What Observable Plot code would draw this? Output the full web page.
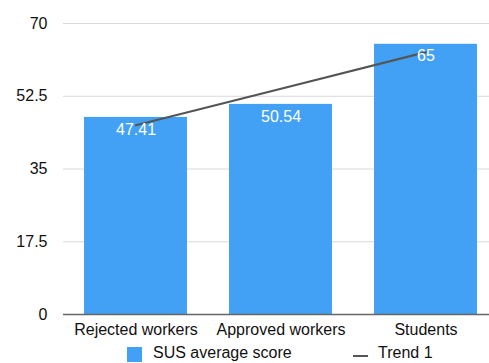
<!DOCTYPE html>
<html>
<head>
<meta charset="utf-8">
<script src="https://cdn.jsdelivr.net/npm/d3@7"></script>
<script src="https://cdn.jsdelivr.net/npm/@observablehq/plot@0.6"></script>
<style>
  body { margin: 0; background: #fff; font-family: "Liberation Sans", Arial, Helvetica, sans-serif; }
  #wrap { position: relative; width: 489px; height: 363px; }
  #legend { position: absolute; left: 0; top: 342px; width: 489px; height: 21px; font-size: 16px; color: #111; }
  .sw { position: absolute; top: 5px; width: 15px; height: 15px; background: #42a1f5; }
  .ln { position: absolute; top: 13px; width: 15px; height: 2px; background: #555; }
  .lt { position: absolute; top: 2px; }
</style>
</head>
<body>
<div id="wrap">
  <div id="chart"></div>
  <div id="legend">
    <div class="sw" style="left:127px"></div><div class="lt" style="left:153px">SUS average score</div>
    <div class="ln" style="left:353px"></div><div class="lt" style="left:378px">Trend 1</div>
  </div>
</div>
<script>
const categories = ["Rejected workers", "Approved workers", "Students"];
const scores = [47.41, 50.54, 65];
const yTicks = [0, 17.5, 35, 52.5, 70];
const valueLabels = ["47.41", "50.54", "65"];

const data = categories.map((c, i) => ({cat: c, v: scores[i], label: valueLabels[i]}));

// linear trend (least squares over category index)
const n = scores.length;
const xs = d3.range(n);
const mx = d3.mean(xs), my = d3.mean(scores);
const slope = d3.sum(xs, (x, i) => (x - mx) * (scores[i] - my)) / d3.sum(xs, x => (x - mx) ** 2);
const trend = categories.map((c, i) => ({cat: c, t: my + slope * (i - mx)}));

const chart = Plot.plot({
  width: 489,
  height: 342,
  marginLeft: 63,
  marginRight: 0,
  marginTop: 23,
  marginBottom: 28,
  style: {fontFamily: "'Liberation Sans', Arial, Helvetica, sans-serif", fontSize: "16px", color: "#111", background: "#fff", overflow: "hidden"},
  x: {domain: categories, range: [63, 498], paddingInner: 0.29, paddingOuter: 0.145, round: false, label: null, axis: null},
  y: {domain: [0, 70], label: null, axis: null},
  marks: [
    Plot.ruleY(yTicks, {stroke: "#d9d9d9"}),
    Plot.barY(data, {x: "cat", y: "v", fill: "#42a1f5"}),
    Plot.ruleY([0], {stroke: "#666", strokeWidth: 1.5}),
    Plot.axisY({ticks: yTicks, tickSize: 0, tickPadding: 16, label: null, fontSize: 16, tickFormat: d => String(d)}),
    Plot.axisX({tickSize: 0, tickPadding: 9, label: null, fontSize: 16}),
    Plot.lineY(trend, {x: "cat", y: "t", stroke: "#555", strokeWidth: 2.2}),
    Plot.text(data, {x: "cat", y: "v", text: "label", fill: "white", fontSize: 16, dy: 12})
  ]
});
document.getElementById("chart").appendChild(chart);
</script>
</body>
</html>
